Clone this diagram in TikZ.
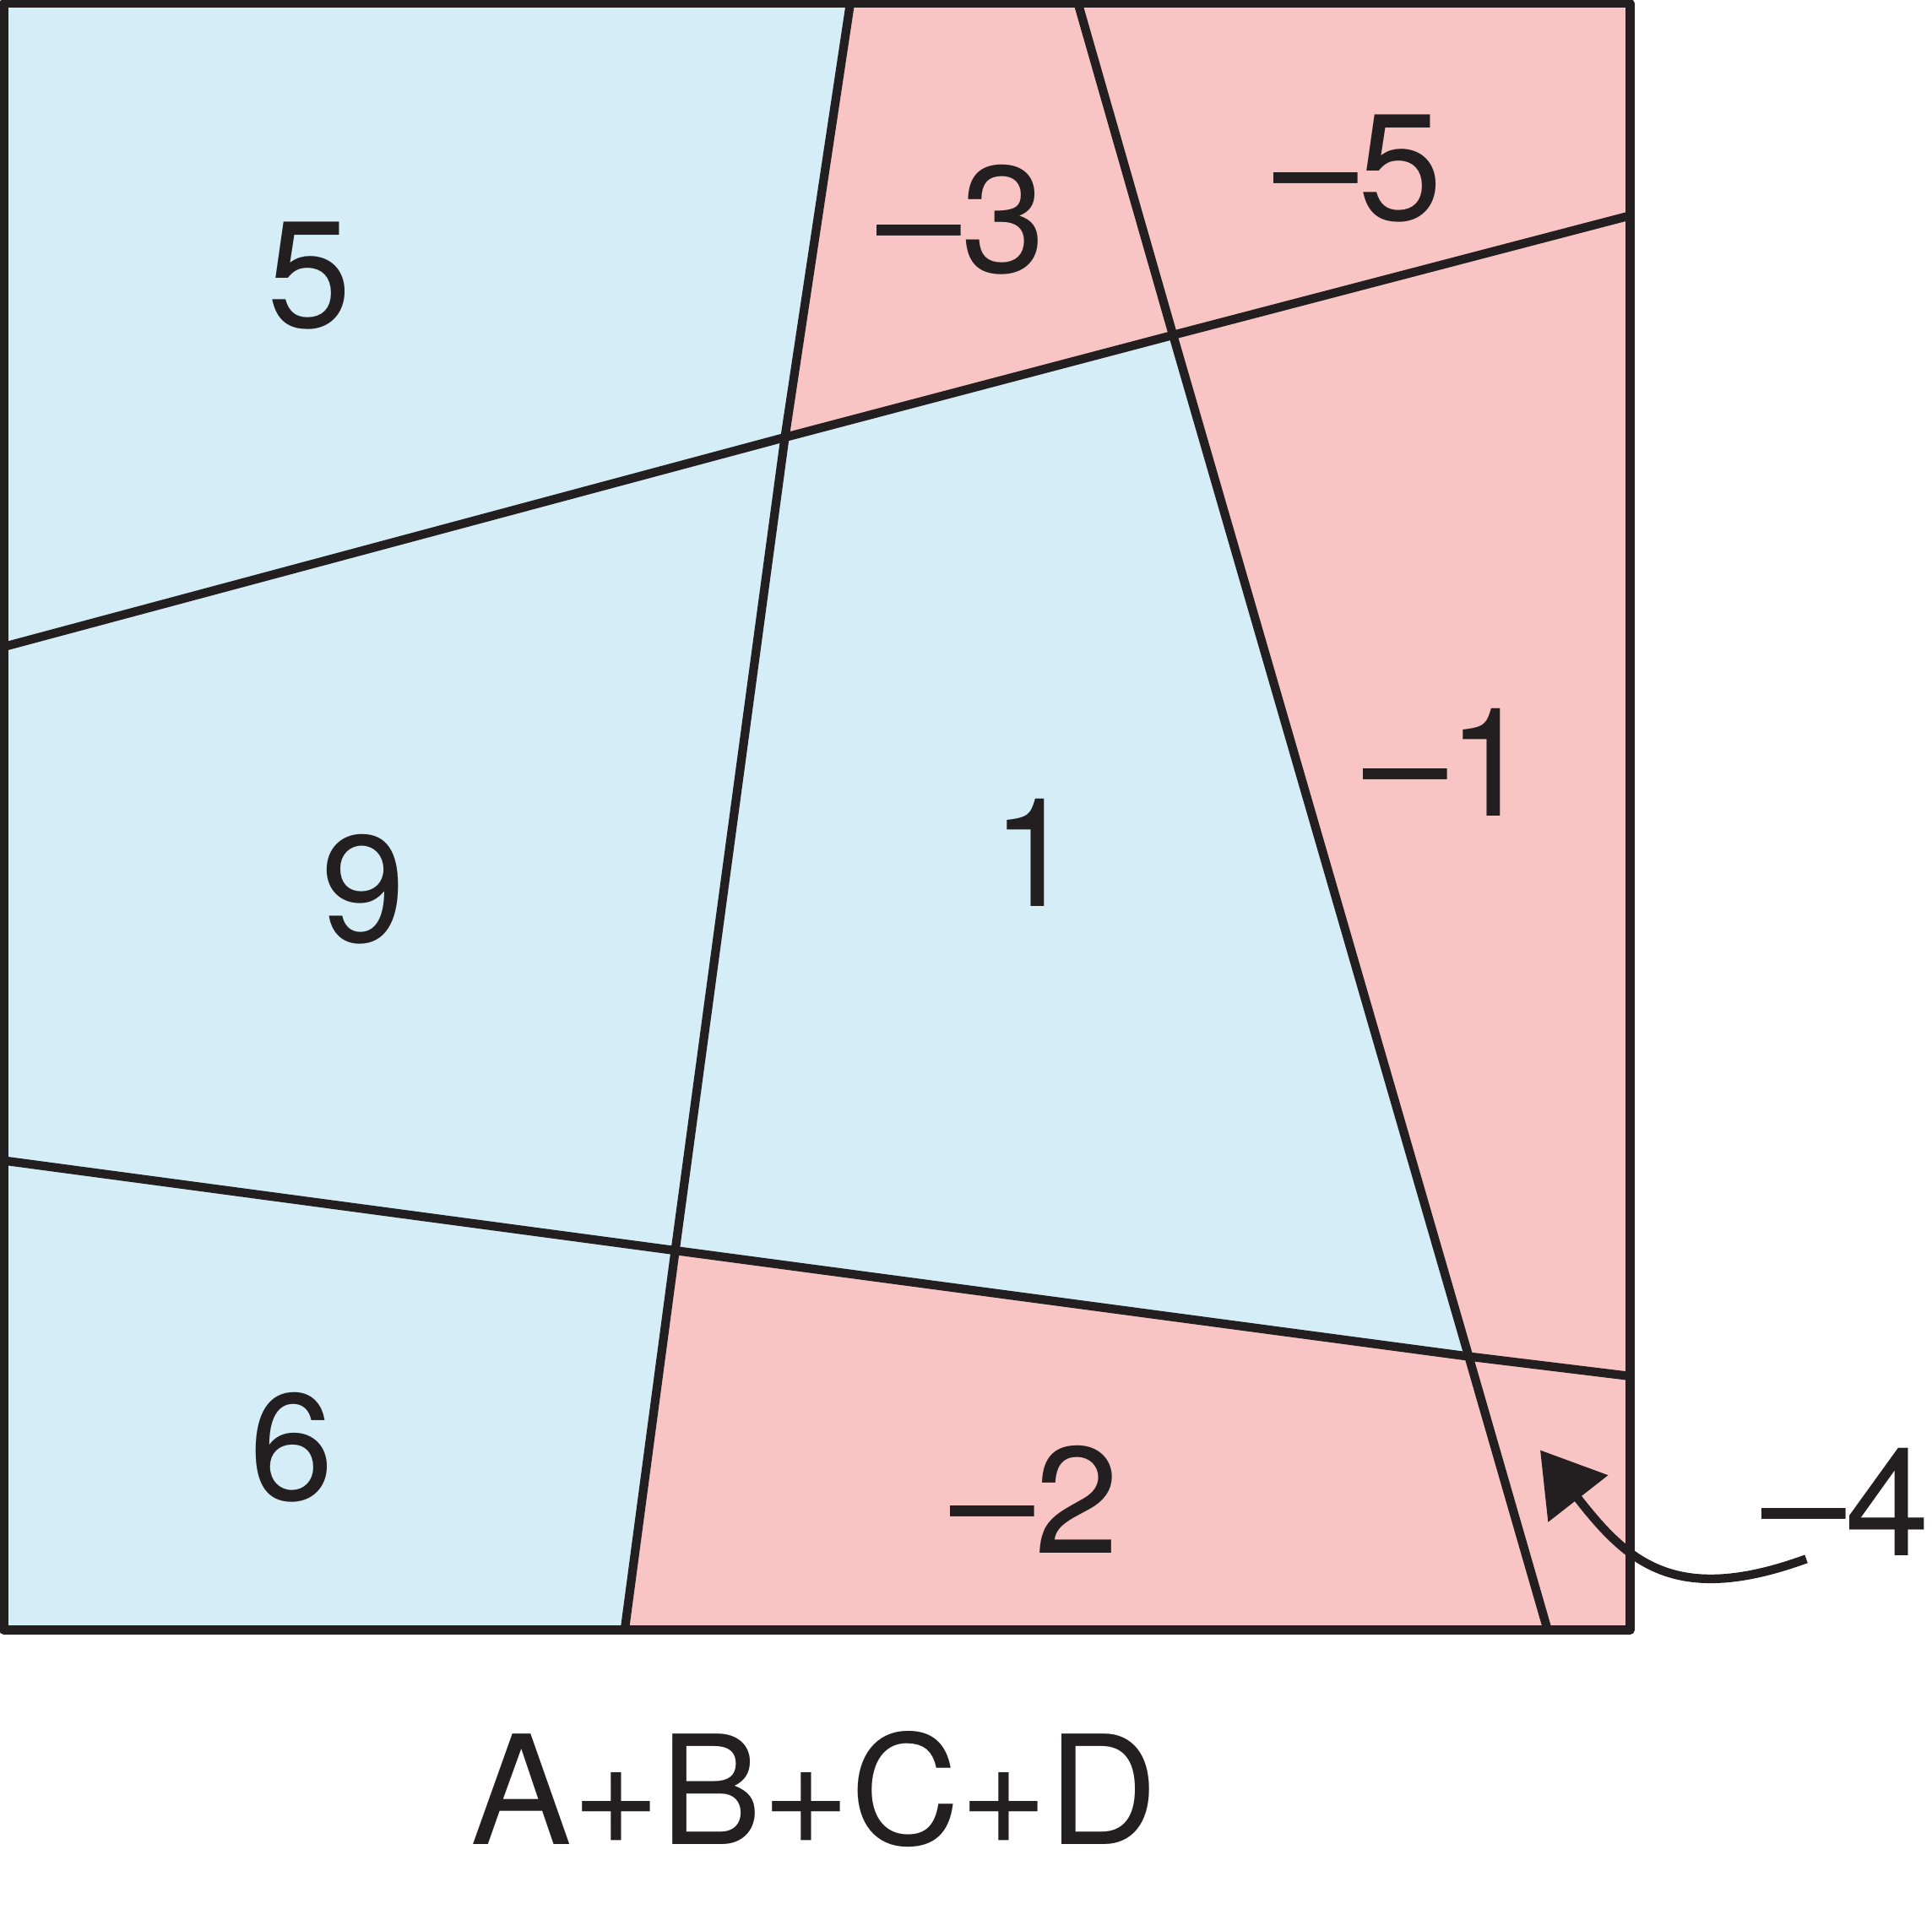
\documentclass[tikz,border=0pt]{standalone}
\usepackage{fontspec}
\setmainfont{TeX Gyre Heros}
\usepackage{xcolor}
\usetikzlibrary{arrows.meta}
\definecolor{ink}{HTML}{231F20}
\definecolor{cellblue}{HTML}{D4EDF6}
\definecolor{cellpink}{HTML}{F9C4C4}
\newcommand{\mn}{\textendash}

\begin{document}
\begin{tikzpicture}[
    lbl/.style={inner sep=0pt, text=ink, font=\fontsize{35}{42}\selectfont},
    cut/.style={line width=2pt, draw=ink, line join=round},
]
    \useasboundingbox (0,0) rectangle (15.68,15.58);
    % Square corners
    \coordinate (sw) at (0.03,2.35);
    \coordinate (ne) at (13.23,15.55);
    % Crossings of the cuts
    \coordinate (x1) at (6.37,12.03);
    \coordinate (x2) at (9.52,12.86);
    \coordinate (x3) at (5.48,5.43);
    \coordinate (x4) at (11.92,4.57);
    
    % Cells
    \fill[cellpink] (sw) rectangle (ne);
    \fill[cellblue] (0.03,15.55) -- (6.90,15.55) -- (x1) -- (x3) -- (5.07,2.35) -- (0.03,2.35) -- cycle;
    \fill[cellblue] (x1) -- (x2) -- (x4) -- (x3) -- cycle;
    
    % Cuts
    \draw[cut] (6.90,15.55) -- (x1) -- (x3) -- (5.07,2.35);
    \draw[cut] (8.75,15.55) -- (x2) -- (x4) -- (12.56,2.35);
    \draw[cut] (0.03,10.33) -- (x1) -- (x2) -- (13.23,13.83);
    \draw[cut] (0.03,6.16) -- (x3) -- (x4) -- (13.23,4.41);
    \draw[cut] (sw) rectangle (ne);
    
    % Values
    \node[lbl] (v5) at (2.51,13.34) {5};
    \node[lbl] (m3) at (7.80,13.80) {\mn3};
    \node[lbl] (m5) at (11.02,14.21) {\mn5};
    \node[lbl] (v9) at (2.95,8.36) {9};
    \node[lbl] (v1) at (8.39,8.66) {1};
    \node[lbl] (m1) at (11.75,9.39) {\mn1};
    \node[lbl] (v6) at (2.37,3.83) {6};
    \node[lbl] (m2) at (8.40,3.41) {\mn2};
    \node[lbl] (m4) at (14.98,3.39) {\mn4};
    \node[lbl] (sum) at (6.61,1.06) {A+B+C+D};
    
    % Pointer to the corner cell
    \coordinate (tip4) at (12.50,3.81);
    \draw[ink, line width=2pt, -{Triangle[length=5mm,width=6mm]}]
        ([xshift=3.7mm,yshift=-0.2mm]m4.south west) to[out=200, in=-52, looseness=1.25] (tip4);
\end{tikzpicture}
\end{document}
